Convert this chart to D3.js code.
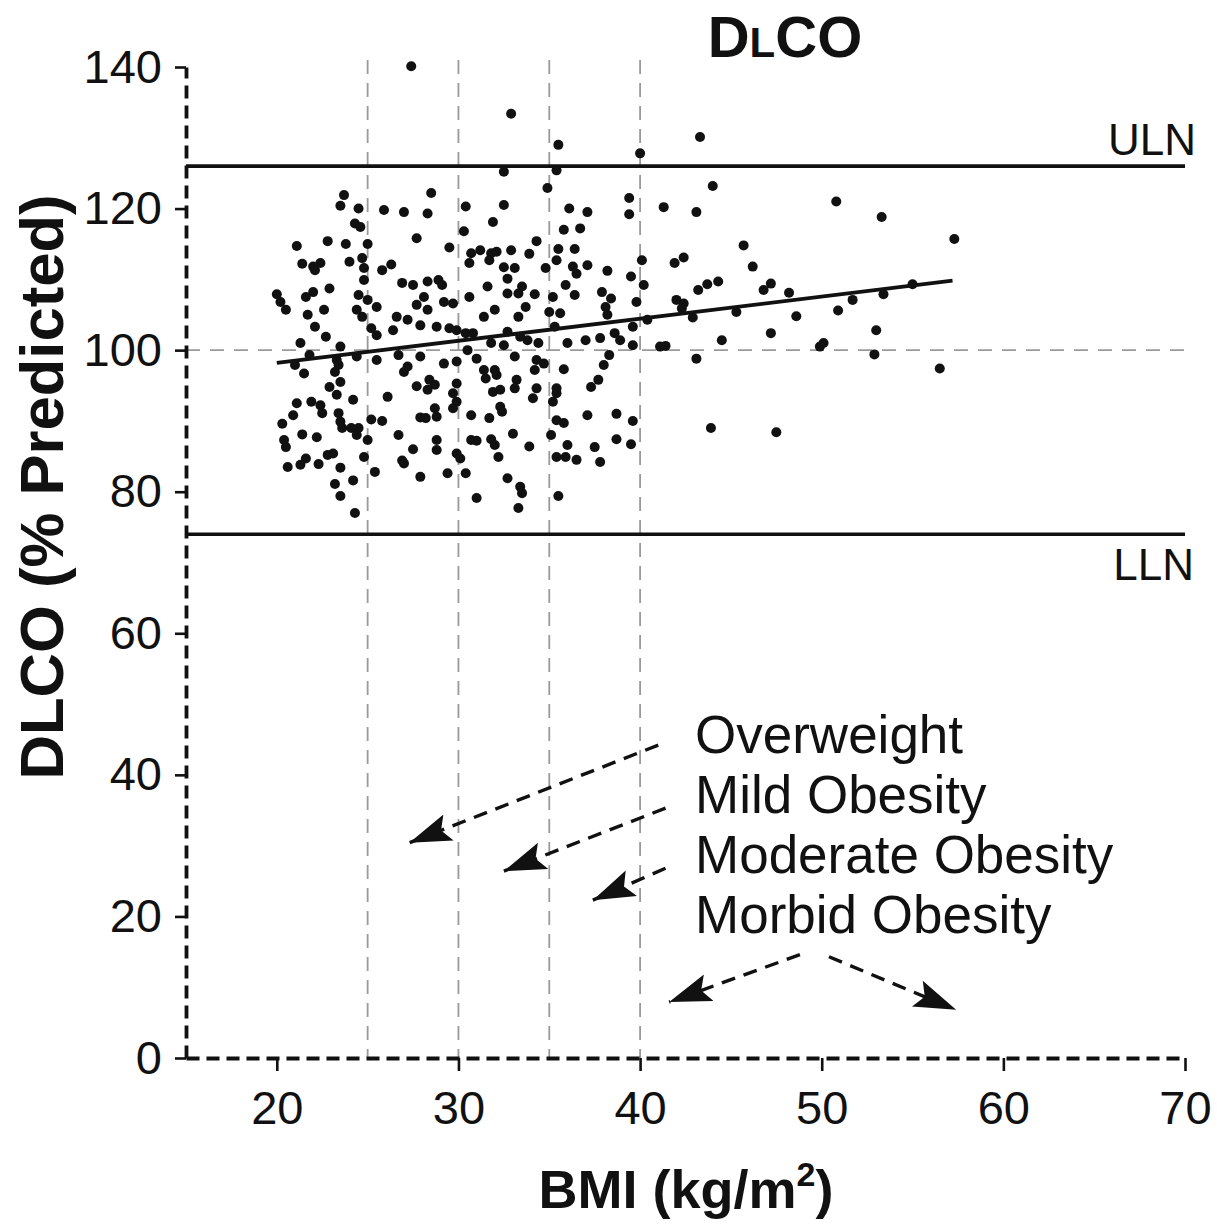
<!DOCTYPE html>
<html>
<head>
<meta charset="utf-8">
<script src="https://cdn.jsdelivr.net/npm/d3@7"></script>
<style>
  html, body { margin: 0; padding: 0; background: #fff; }
  svg { display: block; }
  text { font-family: "Liberation Sans", Arial, Helvetica, sans-serif; fill: #111; }
</style>
</head>
<body>
<svg id="chart" width="1217" height="1230"></svg>
<script>
// BMI (kg/m2) and DLCO (% predicted) for each subject
const patients = [
  [23.7,121.9],[23.5,120.4],[24.5,120.0],[25.9,119.8],[27.0,119.5],[28.3,119.3],[28.5,122.2],[24.3,117.9],[24.6,117.4],[27.7,115.8],
  [29.5,114.5],[21.1,114.7],[22.8,115.4],[23.8,115.0],[25.0,115.0],[21.4,112.2],[22.0,111.8],[22.4,112.3],[22.1,111.3],[24.0,112.5],
  [24.7,113.0],[24.8,111.6],[24.8,109.9],[25.8,111.3],[26.3,112.1],[26.9,109.5],[27.5,109.2],[28.3,109.7],[28.9,109.9],[29.1,109.2],
  [20.0,107.9],[20.2,106.8],[20.5,105.7],[21.6,107.5],[22.0,108.2],[22.9,108.7],[22.6,105.7],[21.7,105.0],[22.1,103.3],[22.7,101.9],
  [21.3,101.0],[24.5,107.8],[25.0,107.1],[25.5,106.1],[24.4,105.7],[24.7,104.7],[28.1,107.5],[27.7,106.4],[28.3,105.7],[29.2,106.8],
  [29.7,106.6],[26.6,104.7],[27.2,104.3],[27.9,103.5],[26.4,102.8],[25.2,103.1],[25.5,102.1],[28.8,103.3],[29.5,103.1],[23.5,100.5],
  [21.0,97.9],[21.5,96.7],[21.8,99.3],[23.3,98.6],[23.4,97.9],[23.2,96.9],[24.4,99.1],[25.5,98.6],[26.7,99.3],[27.9,99.1],
  [29.2,98.1],[29.9,98.4],[27.0,96.9],[27.2,97.7],[28.4,95.8],[28.7,95.1],[28.3,94.4],[27.7,94.9],[29.7,93.9],[22.9,94.8],
  [23.5,95.5],[23.3,93.7],[24.2,93.0],[26.1,93.4],[21.1,92.5],[21.9,92.7],[22.4,92.2],[22.5,91.1],[20.9,90.8],[20.3,89.6],
  [23.4,91.1],[23.5,89.9],[23.6,89.0],[24.1,89.0],[24.5,89.0],[24.4,88.0],[25.2,90.2],[25.8,90.0],[27.9,90.5],[28.2,90.4],
  [28.7,91.8],[28.8,90.6],[29.7,91.8],[21.4,88.1],[22.2,87.7],[20.4,87.3],[20.5,86.3],[25.0,87.3],[26.7,88.0],[28.8,87.3],
  [28.8,85.9],[27.5,86.0],[29.9,85.4],[22.8,85.2],[23.1,85.4],[21.6,84.7],[21.3,83.8],[22.3,83.9],[20.6,83.5],[24.8,84.9],
  [26.9,84.4],[27.0,84.0],[23.5,83.4],[25.4,82.8],[24.2,81.6],[23.2,81.1],[23.5,79.4],[27.9,82.1],[29.4,82.6],[24.3,77.0],
  [32.5,125.2],[35.4,125.4],[34.9,122.9],[30.4,120.3],[32.5,120.5],[36.1,120.0],[37.1,119.5],[39.4,121.5],[39.4,119.2],[31.9,118.1],
  [30.3,116.8],[35.8,117.0],[36.7,117.2],[34.3,115.4],[30.7,113.7],[31.2,114.1],[31.8,113.7],[32.1,113.9],[30.6,112.3],[31.7,112.7],
  [32.9,114.1],[33.9,113.6],[35.5,114.3],[36.4,114.3],[35.4,112.7],[32.5,111.7],[33.1,111.6],[32.7,110.1],[34.8,111.6],[36.3,111.8],
  [36.5,110.8],[37.1,112.0],[38.2,111.2],[39.5,110.4],[31.6,109.0],[33.5,109.0],[33.3,108.0],[32.7,108.0],[34.2,107.9],[35.9,109.2],
  [35.2,107.5],[36.4,107.8],[37.9,108.2],[38.4,107.3],[38.1,106.1],[38.2,105.0],[29.9,102.8],[30.6,107.5],[30.4,102.4],[30.8,102.4],
  [31.4,104.7],[32.0,105.7],[33.7,106.1],[33.3,104.7],[35.0,105.4],[35.6,105.2],[39.8,106.8],[32.7,102.6],[33.4,101.9],[33.8,101.4],
  [34.4,101.0],[35.3,103.3],[36.0,101.0],[37.0,101.4],[37.8,101.7],[38.6,102.4],[38.9,101.4],[39.6,103.3],
  [27.4,140.1],[32.9,133.4],[35.5,129.0],
  [31.8,101.0],[32.5,100.7],[39.6,100.7],[30.5,100.0],[31.0,98.8],[33.1,99.1],[34.3,98.6],[34.7,98.1],[34.2,97.2],[35.8,97.3],
  [38.3,99.3],[38.0,97.9],[31.4,97.2],[31.5,96.0],[32.0,97.2],[32.1,96.5],[33.2,95.8],[33.1,94.6],[29.9,95.3],[29.9,92.7],
  [31.9,94.1],[32.3,94.4],[34.3,94.6],[34.1,93.2],[35.4,94.6],[35.4,93.9],[35.2,92.7],[37.7,95.8],[37.3,94.8],[32.3,92.0],
  [32.4,91.3],[30.7,90.8],[31.7,90.4],[35.4,90.1],[35.8,89.7],[37.1,90.8],[38.7,91.0],[39.6,90.0],[33.0,88.2],[35.1,88.0],
  [30.7,87.3],[31.0,87.2],[31.8,87.4],[32.0,86.6],[32.2,84.9],[33.9,86.4],[36.0,86.6],[38.7,87.4],[39.5,86.7],[37.5,86.3],
  [30.1,84.7],[35.4,84.9],[35.9,84.9],[36.5,84.5],[37.8,84.2],[30.4,82.6],[32.7,81.9],[33.4,80.7],[33.5,79.8],[31.0,79.1],
  [35.5,79.4],[33.3,77.7],
  [43.3,130.1],[40.0,127.8],[44.0,123.2],[41.3,120.2],[43.1,119.5],[50.8,121.0],[53.3,118.8],[57.3,115.7],[45.7,114.8],[46.2,111.8],
  [41.9,112.3],[42.4,113.1],[40.1,112.7],[40.2,109.2],[43.2,108.5],[43.7,109.3],[44.3,109.7],[46.8,108.5],[47.2,109.4],[48.2,108.1],
  [55.0,109.3],[42.0,107.1],[42.4,106.6],[42.3,105.9],[51.7,107.1],[53.4,107.9],[42.9,104.6],[45.3,105.4],[48.6,104.8],[50.9,105.6],
  [40.4,104.3],[41.1,100.5],[41.4,100.6],[44.5,101.4],[47.2,102.4],[53.0,102.8],[49.9,100.5],[50.1,101.0],[43.1,98.8],[52.9,99.4],
  [56.5,97.4],[43.9,89.0],[47.5,88.4]
];

// Least-squares fit of DLCO on BMI, drawn over the observed BMI range
const fit = { slope: 0.312, intercept: 91.96, from: 20, to: 57.2 };

// Normal limits of DLCO (% predicted)
const limits = [
  { name: "ULN", value: 126 },
  { name: "LLN", value: 74 }
];

// BMI class boundaries (kg/m2) and the 100 % predicted reference
const bmiCutoffs = [25, 30, 35, 40];
const referenceDlco = 100;

const xTicks = [20, 30, 40, 50, 60, 70];
const yTicks = [0, 20, 40, 60, 80, 100, 120, 140];

const classLabels = ["Overweight", "Mild Obesity", "Moderate Obesity", "Morbid Obesity"];

// Annotation arrows from the class labels into the plot, in data units
const arrows = [
  { from: [41.0, 44.2], to: [27.3, 30.4] },
  { from: [41.4, 35.3], to: [32.5, 26.4] },
  { from: [41.4, 26.8], to: [37.4, 22.3] },
  { from: [48.8, 14.6], to: [41.6, 7.9] },
  { from: [50.4, 14.3], to: [57.4, 6.8] }
];

const svg = d3.select("#chart");
const x = d3.scaleLinear().domain([15, 70]).range([186, 1185]);
const y = d3.scaleLinear().domain([0, 140]).range([1058, 67]);

// arrowhead
svg.append("defs").append("marker")
  .attr("id", "head")
  .attr("markerUnits", "userSpaceOnUse")
  .attr("markerWidth", 50).attr("markerHeight", 34)
  .attr("refX", 42).attr("refY", 14)
  .attr("orient", "auto")
  .append("path")
  .attr("d", "M0,0 L42,14 L0,28 L8,14 Z")
  .attr("fill", "#111");

// reference grid: class cut-offs and 100 %
svg.append("g").selectAll("line").data(bmiCutoffs).join("line")
  .attr("x1", d => x(d)).attr("x2", d => x(d))
  .attr("y1", y(141)).attr("y2", y(0))
  .attr("stroke", "#9a9a9a").attr("stroke-width", 1.8)
  .attr("stroke-dasharray", "14,9");

svg.append("line")
  .attr("x1", x(15)).attr("x2", x(70))
  .attr("y1", y(referenceDlco)).attr("y2", y(referenceDlco))
  .attr("stroke", "#9a9a9a").attr("stroke-width", 1.8)
  .attr("stroke-dasharray", "14,10");

// ULN / LLN
svg.append("g").selectAll("line").data(limits).join("line")
  .attr("x1", x(15)).attr("x2", x(70))
  .attr("y1", d => y(d.value)).attr("y2", d => y(d.value))
  .attr("stroke", "#111").attr("stroke-width", 3.6);

svg.append("text").attr("x", 1196).attr("y", y(limits[0].value) - 11)
  .attr("text-anchor", "end").attr("font-size", 44).text(limits[0].name);
svg.append("text").attr("x", 1194).attr("y", y(limits[1].value) + 46)
  .attr("text-anchor", "end").attr("font-size", 44).text(limits[1].name);

// points
svg.append("g").selectAll("circle").data(patients).join("circle")
  .attr("cx", d => x(d[0])).attr("cy", d => y(d[1]))
  .attr("r", 5).attr("fill", "#111");

// regression line
svg.append("line")
  .attr("x1", x(fit.from)).attr("y1", y(fit.intercept + fit.slope * fit.from))
  .attr("x2", x(fit.to)).attr("y2", y(fit.intercept + fit.slope * fit.to))
  .attr("stroke", "#111").attr("stroke-width", 3.8);

// axes
const yAxis = svg.append("g").attr("transform", `translate(${x(15)},0)`)
  .call(d3.axisLeft(y).tickValues(yTicks).tickSize(11).tickSizeOuter(0).tickPadding(13));
const xAxis = svg.append("g").attr("transform", `translate(0,${y(0)})`)
  .call(d3.axisBottom(x).tickValues(xTicks).tickSize(13).tickSizeOuter(0).tickPadding(20));

[yAxis, xAxis].forEach(g => {
  g.select(".domain").attr("stroke", "#111").attr("stroke-width", 3.8)
    .attr("stroke-dasharray", "13,7");
  g.selectAll(".tick line").attr("stroke", "#111").attr("stroke-width", 2.6);
  g.selectAll(".tick text").attr("font-size", 47)
    .attr("font-family", "'Liberation Sans', Arial, sans-serif").attr("fill", "#111");
});

// titles
const title = svg.append("text").attr("x", 785).attr("y", 57)
  .attr("text-anchor", "middle").attr("font-size", 58).attr("font-weight", "bold");
title.append("tspan").text("D");
title.append("tspan").attr("font-size", 42).text("L");
title.append("tspan").text("CO");

svg.append("text")
  .attr("transform", "translate(63,487) rotate(-90)")
  .attr("text-anchor", "middle").attr("font-size", 62).attr("font-weight", "bold")
  .attr("textLength", 585).attr("lengthAdjust", "spacingAndGlyphs")
  .text("DLCO (% Predicted)");

const xt = svg.append("text").attr("x", 686).attr("y", 1208)
  .attr("text-anchor", "middle").attr("font-size", 54).attr("font-weight", "bold");
xt.append("tspan").text("BMI (kg/m");
xt.append("tspan").attr("font-size", 34).attr("dy", -22).text("2");
xt.append("tspan").attr("dy", 22).text(")");

// class labels and arrows
svg.append("g").selectAll("text").data(classLabels).join("text")
  .attr("x", 695).attr("y", (d, i) => 753 + i * 60)
  .attr("font-size", 53).text(d => d);

svg.append("g").selectAll("line").data(arrows).join("line")
  .attr("x1", d => x(d.from[0])).attr("y1", d => y(d.from[1]))
  .attr("x2", d => x(d.to[0])).attr("y2", d => y(d.to[1]))
  .attr("stroke", "#111").attr("stroke-width", 3.4)
  .attr("stroke-dasharray", "14,9")
  .attr("marker-end", "url(#head)");
</script>
</body>
</html>
